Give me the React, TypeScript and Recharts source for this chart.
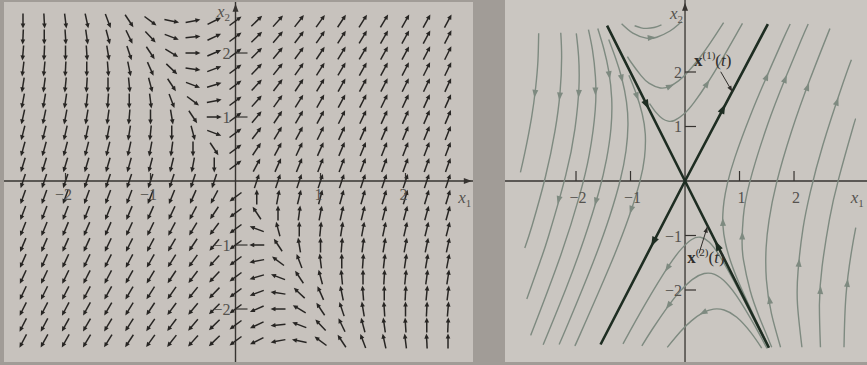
import React from "react";
import {
  ComposedChart,
  ScatterChart,
  Scatter,
  Line,
  XAxis,
  YAxis,
  ReferenceLine,
} from "recharts";

document.body.style.margin = "0";

// grid of the direction field (left panel)
const fieldX1 = [-2.5, -2.25, -2, -1.75, -1.5, -1.25, -1, -0.75, -0.5, -0.25, 0, 0.25, 0.5, 0.75, 1, 1.25, 1.5, 1.75, 2, 2.25, 2.5];
const fieldX2 = [-2.5, -2.25, -2, -1.75, -1.5, -1.25, -1, -0.75, -0.5, -0.25, 0, 0.25, 0.5, 0.75, 1, 1.25, 1.5, 1.75, 2, 2.25, 2.5];

// x' = A x  (eigenvector lines x2 = 2x1 and x2 = -2x1)
const systemA = [
  [1, 1],
  [4, 1],
];

const tickValues = [-2, -1, 1, 2];
const tickLabels = ["\u22122", "\u22121", "1", "2"];

// trajectories (right panel)
const leftRegionCurves = [
  [[-2.685, 2.71], [-2.699, 2.202], [-2.74, 1.721], [-2.815, 1.169], [-2.938, 0.524], [-3.02, 0.157]],
  [[-2.28, 2.72], [-2.264, 2.272], [-2.294, 1.612], [-2.388, 0.905], [-2.561, 0.078], [-2.803, -0.806], [-2.94, -1.23]],
  [[-1.995, 2.71], [-1.953, 2.293], [-1.947, 1.705], [-2.019, 0.962], [-2.189, 0.102], [-2.502, -1.004], [-2.658, -1.475], [-2.903, -2.166]],
  [[-1.772, 2.777], [-1.698, 2.404], [-1.644, 1.912], [-1.647, 1.306], [-1.756, 0.488], [-1.937, -0.274], [-2.277, -1.353], [-2.746, -2.611], [-2.82, -2.8]],
  [[-1.601, 2.798], [-1.489, 2.422], [-1.398, 2.005], [-1.345, 1.51], [-1.359, 0.963], [-1.44, 0.401], [-1.583, -0.206], [-1.848, -1.056], [-2.18, -1.963], [-2.603, -3.006]],
  [[-1.4, 2.597], [-1.273, 2.253], [-1.159, 1.881], [-1.074, 1.453], [-1.047, 1.027], [-1.083, 0.555], [-1.186, 0.028], [-1.38, -0.641], [-1.689, -1.499], [-2.129, -2.577], [-2.31, -3.0]],
  [[-1.03, 1.94], [-0.897, 1.605], [-0.785, 1.23], [-0.729, 0.862], [-0.743, 0.434], [-0.832, -0.024], [-1.029, -0.657], [-1.378, -1.556], [-1.915, -2.791], [-2.01, -3.0]],
];

const topRegionCurves = [
  [[-0.9245, 2.849], [-0.805, 2.81], [-0.7, 2.8], [-0.568, 2.816], [-0.432, 2.864]],
  [[-1.1635, 2.887], [-0.957, 2.715], [-0.711, 2.622], [-0.519, 2.637], [-0.276, 2.752], [-0.131, 2.863], [-0.062, 2.925]],
  [[-1.057, 2.283], [-0.987, 2.174], [-0.807, 1.934], [-0.655, 1.79], [-0.453, 1.707], [-0.271, 1.742], [-0.119, 1.837], [0.0185, 1.963], [0.27, 2.261], [0.504, 2.592], [0.708, 2.905]],
  [[-0.651, 1.422], [-0.5245, 1.249], [-0.411, 1.142], [-0.309, 1.098], [-0.195, 1.11], [-0.016, 1.232], [0.174, 1.452], [0.406, 1.789], [0.681, 2.238], [0.948, 2.704], [1.054, 2.893]],
];

const bottomRegionCurves = [
  [[-1.138, -2.987], [-0.7275, -2.255], [-0.297, -1.554], [-0.058, -1.236], [0.123, -1.073], [0.284, -1.032], [0.441, -1.119], [0.623, -1.354], [0.89, -1.82], [1.196, -2.409], [1.528, -3.064]],
  [[-0.792, -3.025], [-0.6, -2.72], [-0.306, -2.291], [-0.092, -2.025], [0.138, -1.805], [0.351, -1.698], [0.543, -1.714], [0.762, -1.875], [1.004, -2.193], [1.276, -2.649], [1.505, -3.071]],
  [[-0.326, -3.052], [-0.078, -2.757], [0.117, -2.566], [0.332, -2.416], [0.524, -2.351], [0.717, -2.367], [0.95, -2.501], [1.209, -2.782], [1.407, -3.066]],
];

const rightRegionCurves = [
  [[1.539, -3.05], [1.311, -2.578], [1.024, -1.952], [0.847, -1.505], [0.738, -1.124], [0.695, -0.809], [0.694, -0.613], [0.716, -0.369], [0.778, -0.044], [0.914, 0.429], [1.196, 1.193], [1.5, 1.919], [1.799, 2.598], [1.93, 2.88]],
  [[1.591, -3.05], [1.358, -2.485], [1.195, -2.01], [1.073, -1.453], [1.047, -1.106], [1.069, -0.663], [1.185, -0.03], [1.511, 1.022], [1.8375, 1.875], [2.126, 2.572], [2.26, 2.88]],
  [[1.753, -3.05], [1.585, -2.43], [1.493, -1.813], [1.488, -1.224], [1.542, -0.717], [1.676, -0.049], [1.952, 0.903], [2.293, 1.865], [2.658, 2.796]],
  [[2.145, -3.05], [2.064, -2.272], [2.074, -1.653], [2.165, -0.869], [2.3, -0.2], [2.528, 0.657], [2.901, 1.802], [3.053, 2.226]],
  [[2.485, -3.05], [2.466, -2.268], [2.515, -1.571], [2.651, -0.698], [2.816, 0.031], [3.068, 0.936], [3.132, 1.144]],
  [[2.917, -3.05], [2.954, -2.092], [3.055, -1.29], [3.133, -0.854]],
];

// straight-line solutions x(1)(t) and x(2)(t)
const eigenLine1 = [[-1.55, -3.0], [0, 0], [1.52, 2.88]];
const eigenLine2 = [[-1.43, 2.85], [0, 0], [1.54, -3.06]];

const curveArrowPoints = [
  [-2.755, 1.6], [-2.3, 1.55], [-1.95, 1.6], [-2.32, -0.35], [-1.645, 1.64],
  [-1.39, 1.94], [-1.637, -0.38], [-1.16, 1.88], [-0.88, 1.55], [-0.99, -0.53],
  [-0.611, 2.63], [-0.27, 1.742], [0.406, 1.789],
  [1.5, 1.919], [0.695, -0.75], [1.84, 1.875], [1.05, -1.0], [2.25, 1.73], [1.55, -2.18],
  [2.79, 1.46], [2.09, -1.5], [2.485, -2.0], [2.98, -1.87],
  [-0.325, -1.6], [-0.306, -2.291], [0.332, -2.416],
];
const eigenArrowPoints = [[0.7, 1.33], [-0.58, -1.12], [-0.7, 1.395], [0.593, -1.18]];

const pointer1 = [[0.655, 2.005], [0.868, 1.638]];
const pointer2 = [[0.257, -1.327], [0.41, -0.839]];

const GAP = "#a19c97";
const PAGE_L = "#c7c2bd";
const PAGE_R = "#cac6c1";
const INK = "#272523";
const AXIS = "#363330";
const TEXT = "#55524e";
const CURVE = "#7e8a80";
const EIGEN = "#1e2d22";
const FONT = "'Liberation Serif', 'DejaVu Serif', serif";

const LEFT = { width: 469, height: 360, x: [-2.7235, 2.794], y: [-2.828, 2.797] };
const RIGHT = { width: 362, height: 362, x: [-3.303, 3.339], y: [-3.321, 3.321] };
const scaleOf = (p: any) => ({ sx: p.width / (p.x[1] - p.x[0]), sy: p.height / (p.y[1] - p.y[0]) });
const LS = scaleOf(LEFT);
const RS = scaleOf(RIGHT);

const velocity = (x: number, y: number) => [
  systemA[0][0] * x + systemA[0][1] * y,
  systemA[1][0] * x + systemA[1][1] * y,
];

function unitPx(vx: number, vy: number, s: { sx: number; sy: number }) {
  const px = vx * s.sx;
  const py = -vy * s.sy;
  const m = Math.hypot(px, py);
  return m ? [px / m, py / m] : null;
}

function headPts(x: number, y: number, ux: number, uy: number, len: number, half: number) {
  const bx = x - ux * len;
  const by = y - uy * len;
  return `${x},${y} ${bx - uy * half},${by + ux * half} ${bx + uy * half},${by - ux * half}`;
}

const fieldData = fieldX1.flatMap((x) => fieldX2.map((y) => ({ x, y })));
const toPts = (c: number[][]) => c.map(([x, y]) => ({ x, y }));
const tickX = tickValues.map((v, i) => ({ x: v, y: 0, label: tickLabels[i] }));
const tickY = tickValues.map((v, i) => ({ x: 0, y: v, label: tickLabels[i] }));

const FieldMark = (props: any) => {
  const { cx, cy, payload } = props;
  const [vx, vy] = velocity(payload.x, payload.y);
  const d = unitPx(vx, vy, LS);
  if (!d) return <g />;
  const [ux, uy] = d;
  const h = 7.5;
  const x2 = cx + ux * h;
  const y2 = cy + uy * h;
  return (
    <g>
      <line x1={cx - ux * h} y1={cy - uy * h} x2={x2 - ux * 3} y2={y2 - uy * 3} stroke={INK} strokeWidth={1.5} />
      <polygon points={headPts(x2, y2, ux, uy, 5, 2.3)} fill={INK} />
    </g>
  );
};

const flowHead = (color: string, len: number, half: number) => (props: any) => {
  const { cx, cy, payload } = props;
  const [vx, vy] = velocity(payload.x, payload.y);
  const d = unitPx(vx, vy, RS);
  if (!d) return <g />;
  const tipX = cx + d[0] * len * 0.5;
  const tipY = cy + d[1] * len * 0.5;
  return <polygon points={headPts(tipX, tipY, d[0], d[1], len, half)} fill={color} />;
};

const dirHead = (s: any, color: string, len: number, half: number) => (props: any) => {
  const { cx, cy, payload } = props;
  const d = unitPx(payload.u, payload.v, s);
  if (!d) return <g />;
  return <polygon points={headPts(cx, cy, d[0], d[1], len, half)} fill={color} />;
};

const vTick = (len: number) => (props: any) => (
  <line x1={props.cx} y1={props.cy} x2={props.cx} y2={props.cy - len} stroke={AXIS} strokeWidth={1.2} />
);
const hTick = (len: number) => (props: any) => (
  <line x1={props.cx} y1={props.cy} x2={props.cx + len} y2={props.cy} stroke={AXIS} strokeWidth={1.2} />
);

const xLabel = (dx: number, dy: number) => (props: any) => (
  <text x={props.cx + dx} y={props.cy + dy} textAnchor="middle" fontFamily={FONT} fontSize={16} fill={TEXT}>
    {props.payload.label}
  </text>
);
const yLabel = (dx: number, dy: number) => (props: any) => (
  <text x={props.cx + dx} y={props.cy + dy} textAnchor="end" fontFamily={FONT} fontSize={16} fill={TEXT}>
    {props.payload.label}
  </text>
);

const axisName = (props: any) => (
  <text x={props.cx} y={props.cy} textAnchor={props.payload.anchor} fontFamily={FONT} fontSize={17} fill={TEXT}>
    <tspan fontStyle="italic">x</tspan>
    <tspan fontSize={11} dy={4}>{props.payload.sub}</tspan>
  </text>
);

const solutionLabel = (props: any) => (
  <text x={props.cx} y={props.cy} fontFamily={FONT} fontSize={17} fill="#2f2d2a">
    <tspan fontWeight="bold">x</tspan>
    <tspan fontSize={11} dy={-7}>({props.payload.n})</tspan>
    <tspan dy={7}>(</tspan>
    <tspan fontStyle="italic">t</tspan>
    <tspan>)</tspan>
  </text>
);

const leftAxisHeads = [
  { x: 0, y: 2.77, u: 0, v: 1 },
  { x: 2.78, y: 0, u: 1, v: 0 },
];
const rightAxisHeads = [{ x: 0, y: 3.27, u: 0, v: 1 }];
const pointerHeads = [pointer1, pointer2].map(([a, b]) => ({ x: b[0], y: b[1], u: b[0] - a[0], v: b[1] - a[1] }));

const margin0 = { top: 0, right: 0, bottom: 0, left: 0 };

export default function App() {
  const allCurves = [...leftRegionCurves, ...topRegionCurves, ...bottomRegionCurves, ...rightRegionCurves];
  return (
    <div style={{ position: "relative", width: 867, height: 365, background: GAP, overflow: "hidden" }}>
      <div style={{ position: "absolute", left: 4, top: 2, width: LEFT.width, height: LEFT.height, background: PAGE_L }}>
        <ScatterChart width={LEFT.width} height={LEFT.height} margin={margin0}>
          <XAxis type="number" dataKey="x" domain={LEFT.x} hide allowDataOverflow />
          <YAxis type="number" dataKey="y" domain={LEFT.y} hide allowDataOverflow />
          <ReferenceLine x={0} stroke={AXIS} strokeWidth={1.4} />
          <ReferenceLine y={0} stroke={AXIS} strokeWidth={1.4} />
          <Scatter data={fieldData} shape={FieldMark} isAnimationActive={false} />
          <Scatter data={tickX} shape={vTick(8)} isAnimationActive={false} />
          <Scatter data={tickY} shape={hTick(12)} isAnimationActive={false} />
          <Scatter data={tickX} shape={xLabel(-2, 19)} isAnimationActive={false} />
          <Scatter data={tickY} shape={yLabel(-5, 6)} isAnimationActive={false} />
          <Scatter data={leftAxisHeads} shape={dirHead(LS, AXIS, 8, 3)} isAnimationActive={false} />
          <Scatter
            data={[
              { x: -0.065, y: 2.57, sub: "2", anchor: "end" },
              { x: 2.62, y: -0.344, sub: "1", anchor: "start" },
            ]}
            shape={axisName}
            isAnimationActive={false}
          />
        </ScatterChart>
      </div>
      <div style={{ position: "absolute", left: 505, top: 0, width: RIGHT.width, height: RIGHT.height, background: PAGE_R }}>
        <ComposedChart width={RIGHT.width} height={RIGHT.height} margin={margin0}>
          <XAxis type="number" dataKey="x" domain={RIGHT.x} hide allowDataOverflow />
          <YAxis type="number" dataKey="y" domain={RIGHT.y} hide allowDataOverflow />
          <ReferenceLine x={0} stroke={AXIS} strokeWidth={1.3} />
          <ReferenceLine y={0} stroke={AXIS} strokeWidth={1.3} />
          {allCurves.map((c, i) => (
            <Line
              key={i}
              data={toPts(c)}
              dataKey="y"
              type="natural"
              stroke={CURVE}
              strokeWidth={1.4}
              dot={false}
              activeDot={false}
              isAnimationActive={false}
            />
          ))}
          {[eigenLine1, eigenLine2].map((c, i) => (
            <Line
              key={"e" + i}
              data={toPts(c)}
              dataKey="y"
              type="linear"
              stroke={EIGEN}
              strokeWidth={2.6}
              dot={false}
              activeDot={false}
              isAnimationActive={false}
            />
          ))}
          {[pointer1, pointer2].map((c, i) => (
            <Line
              key={"p" + i}
              data={toPts(c)}
              dataKey="y"
              type="linear"
              stroke="#2f2d2a"
              strokeWidth={1}
              dot={false}
              activeDot={false}
              isAnimationActive={false}
            />
          ))}
          <Scatter data={toPts(curveArrowPoints)} shape={flowHead(CURVE, 8, 3)} isAnimationActive={false} />
          <Scatter data={toPts(eigenArrowPoints)} shape={flowHead(EIGEN, 10, 3.6)} isAnimationActive={false} />
          <Scatter data={pointerHeads} shape={dirHead(RS, "#2f2d2a", 6, 2.2)} isAnimationActive={false} />
          <Scatter data={tickX} shape={vTick(10)} isAnimationActive={false} />
          <Scatter data={tickY} shape={hTick(11)} isAnimationActive={false} />
          <Scatter data={tickX} shape={xLabel(2, 22)} isAnimationActive={false} />
          <Scatter data={tickY} shape={yLabel(-3, 6)} isAnimationActive={false} />
          <Scatter data={rightAxisHeads} shape={dirHead(RS, AXIS, 8, 3)} isAnimationActive={false} />
          <Scatter
            data={[
              { x: -0.037, y: 2.98, sub: "2", anchor: "end" },
              { x: 3.04, y: -0.4, sub: "1", anchor: "start" },
            ]}
            shape={axisName}
            isAnimationActive={false}
          />
          <Scatter
            data={[
              { x: 0.165, y: 2.11, n: "1" },
              { x: 0.04, y: -1.505, n: "2" },
            ]}
            shape={solutionLabel}
            isAnimationActive={false}
          />
        </ComposedChart>
      </div>
    </div>
  );
}
